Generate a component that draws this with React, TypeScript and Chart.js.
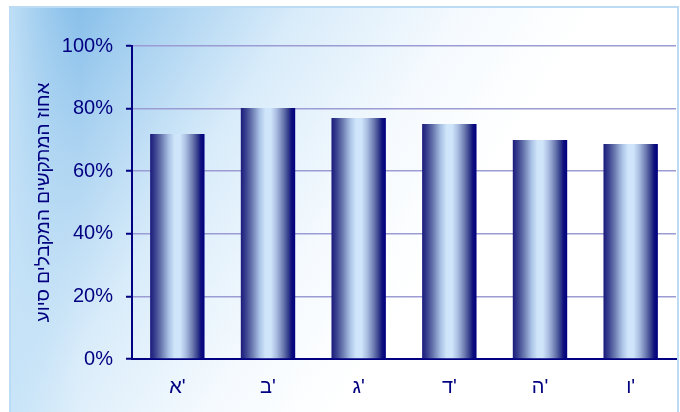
import React, { useEffect, useRef } from "react";
import { Chart, registerables } from "chart.js";

Chart.register(...registerables);

const categories = ["א'", "ב'", "ג'", "ד'", "ה'", "ו'"];
const values = [71.9, 80.2, 77.0, 75.1, 70.0, 68.7];
const yTitle = "אחוז המתקשים המקבלים סיוע";

const NAVY = "#000080";
const FONT = "Arial, 'Liberation Sans', sans-serif";
const BAR_PCT = 0.6;

const backgroundPlugin = {
  id: "skyBackground",
  beforeDraw(chart: any) {
    const { ctx, width, height } = chart;
    ctx.save();
    ctx.fillStyle = "#ffffff";
    ctx.fillRect(0, 0, width, height);
    const g = ctx.createLinearGradient(10, 0, 430, 270);
    g.addColorStop(0, "#6cafe3");
    g.addColorStop(0.25, "#a6d0f0");
    g.addColorStop(0.5, "#d9ecfa");
    g.addColorStop(0.78, "#f5fafe");
    g.addColorStop(1, "#ffffff");
    ctx.fillStyle = g;
    ctx.fillRect(10, 7, width - 12, height - 7);
    const g2 = ctx.createLinearGradient(10, 0, 80, 0);
    g2.addColorStop(0, "rgba(200,228,248,0.9)");
    g2.addColorStop(1, "rgba(200,228,248,0)");
    ctx.fillStyle = g2;
    ctx.fillRect(10, 7, 70, height - 7);
    ctx.strokeStyle = "#bcdcf6";
    ctx.lineWidth = 2;
    ctx.strokeRect(10, 7, 668, height + 10);
    ctx.restore();
  },
};

function barGradient(context: any) {
  const chart = context.chart;
  const xs = chart.scales && chart.scales.x;
  if (!xs || context.dataIndex === undefined) return NAVY;
  const cx = xs.getPixelForValue(context.dataIndex);
  const w = (xs.width / categories.length) * BAR_PCT;
  if (!isFinite(cx) || !isFinite(w) || w <= 0) return NAVY;
  const g = chart.ctx.createLinearGradient(cx - w / 2, 0, cx + w / 2, 0);
  g.addColorStop(0, "#1a1a7c");
  g.addColorStop(0.1, "#3c4490");
  g.addColorStop(0.22, "#7080b4");
  g.addColorStop(0.34, "#a8c0e4");
  g.addColorStop(0.45, "#cfe5fa");
  g.addColorStop(0.55, "#cfe5fa");
  g.addColorStop(0.66, "#a8bce0");
  g.addColorStop(0.78, "#6c7ab0");
  g.addColorStop(0.88, "#303a8a");
  g.addColorStop(0.93, "#10107e");
  g.addColorStop(1, "#000080");
  return g;
}

export default function App() {
  const ref = useRef<HTMLCanvasElement | null>(null);
  useEffect(() => {
    if (!ref.current) return;
    const chart = new Chart(ref.current, {
      type: "bar",
      data: {
        labels: categories,
        datasets: [
          {
            data: values,
            backgroundColor: barGradient,
            borderWidth: 0,
            categoryPercentage: 1,
            barPercentage: BAR_PCT,
          },
        ],
      },
      options: {
        animation: false,
        responsive: false,
        devicePixelRatio: 1,
        layout: { padding: { left: 0, right: 4, top: 46, bottom: 0 } },
        plugins: {
          legend: { display: false },
          tooltip: { enabled: false },
        },
        scales: {
          x: {
            afterFit: (s: any) => {
              s.height = 53;
            },
            grid: { display: false, drawTicks: false, tickLength: 0 },
            border: { display: true, color: NAVY, width: 2 },
            ticks: {
              color: NAVY,
              padding: 16,
              font: { family: FONT, size: 20 },
              callback: (_v: any, i: number) => "\u202D" + categories[i] + "\u202C",
            },
          },
          y: {
            min: 0,
            max: 100,
            afterFit: (s: any) => {
              s.width = 132;
            },
            grid: {
              color: "#9c9cd4",
              lineWidth: 1.5,
              borderDash: [1, 1],
              drawTicks: true,
              tickLength: 6,
              tickColor: NAVY,
              tickWidth: 2,
              tickBorderDash: [],
            },
            border: { display: true, color: NAVY, width: 2, dash: [] },
            ticks: {
              stepSize: 20,
              color: NAVY,
              padding: 13,
              font: { family: FONT, size: 20 },
              callback: (v: any) => v + "%",
            },
            title: {
              display: true,
              text: yTitle,
              color: NAVY,
              font: { family: FONT, size: 19 },
              padding: { top: 32, bottom: 0 },
            },
          },
        },
      },
      plugins: [backgroundPlugin],
    });
    return () => chart.destroy();
  }, []);
  return (
    <div style={{ position: "fixed", left: 0, top: 0, width: 680, height: 412 }}>
      <canvas ref={ref} width={680} height={412} style={{ width: 680, height: 412, display: "block" }} />
    </div>
  );
}
